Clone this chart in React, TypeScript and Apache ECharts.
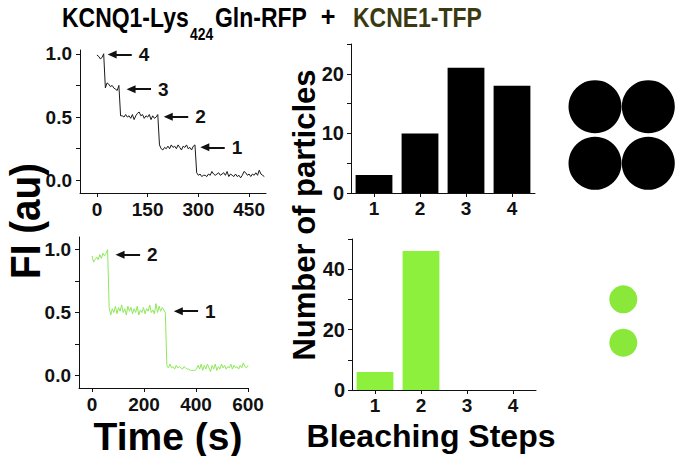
import React, { useEffect, useRef } from 'react';
import * as echarts from 'echarts';

// ---- data ----
const topTimeStep = 5; // s between samples (KCNQ1-Lys424Gln-RFP trace)
const topTrace = [
  0.99, 0.98, 0.96, 0.97, 1.0, 0.73, 0.77, 0.76, 0.74, 0.75,
  0.73, 0.72, 0.71, 0.75, 0.51, 0.51, 0.5, 0.52, 0.5, 0.51,
  0.49, 0.52, 0.48, 0.51, 0.53, 0.54, 0.51, 0.52, 0.49, 0.51,
  0.5, 0.52, 0.48, 0.51, 0.49, 0.5, 0.52, 0.28, 0.25, 0.24,
  0.26, 0.25, 0.27, 0.25, 0.28, 0.26, 0.27, 0.25, 0.28, 0.26,
  0.24, 0.27, 0.26, 0.28, 0.25, 0.26, 0.24, 0.27, 0.28, 0.06,
  0.04, 0.05, 0.03, 0.04, 0.04, 0.03, 0.05, 0.04, 0.07, 0.05,
  0.04, 0.05, 0.06, 0.04, 0.05, 0.06, 0.04, 0.07, 0.03, 0.05,
  0.04, 0.03, 0.05, 0.03, 0.04, 0.02, 0.04, 0.07, 0.06, 0.04,
  0.05, 0.03, 0.05, 0.04, 0.06, 0.04, 0.08, 0.05, 0.04, 0.03,
];
const bottomTimeStep = 6; // s between samples (KCNE1-TFP trace)
const bottomTrace = [
  0.95, 0.9, 0.92, 0.94, 0.92, 0.96, 0.93, 0.97, 0.95, 0.97,
  1.0, 0.54, 0.48, 0.53, 0.5, 0.55, 0.49, 0.54, 0.51, 0.56,
  0.5, 0.53, 0.48, 0.55, 0.51, 0.54, 0.49, 0.53, 0.5, 0.55,
  0.48, 0.52, 0.5, 0.54, 0.49, 0.53, 0.51, 0.56, 0.5, 0.52,
  0.49, 0.57, 0.5, 0.55, 0.51, 0.54, 0.52, 0.5, 0.08, 0.06,
  0.09, 0.06, 0.07, 0.05, 0.08, 0.06, 0.07, 0.06, 0.05, 0.07,
  0.06, 0.05, 0.05, 0.04, 0.04, 0.04, 0.04, 0.05, 0.08, 0.05,
  0.09, 0.04, 0.08, 0.05, 0.09, 0.06, 0.03, 0.08, 0.05, 0.09,
  0.04, 0.07, 0.05, 0.09, 0.06, 0.08, 0.05, 0.07, 0.06, 0.09,
  0.05, 0.08, 0.06, 0.07, 0.05, 0.08, 0.06, 0.1, 0.07, 0.06,
  0.08,
];
const stepCategories = ['1', '2', '3', '4'];
const kcnq1Counts = [3, 10, 21, 18];
const kcne1Counts = [6, 46, 0, 0];

const topTimeTicks = [0, 150, 300, 450];
const bottomTimeTicks = [0, 200, 400, 600];
const fiTicks = [0, 0.25, 0.5, 0.75, 1.0];
const fiLabels = [0, 0.5, 1.0];
const topCountLabels = [0, 10, 20];
const bottomCountLabels = [0, 20, 40];

// arrows: label, tip time, level, tail time
const topArrows = [
  { n: '4', t: 45, v: 0.995, tail: 103 },
  { n: '3', t: 101, v: 0.72, tail: 160 },
  { n: '2', t: 211, v: 0.503, tail: 270 },
  { n: '1', t: 319, v: 0.261, tail: 378 },
];
const bottomArrows = [
  { n: '2', t: 108, v: 0.958, tail: 185 },
  { n: '1', t: 332, v: 0.51, tail: 408 },
];

const F = '"Liberation Sans", Arial, Helvetica, sans-serif';
const BLACK = '#111111';
const GREEN_LINE = '#8ee85a';
const GREEN_BAR = '#8cf03c';
const GREEN_DOT = '#8ae83a';

const tickFont = { fontFamily: F, fontWeight: 'bold' as const, fontSize: 19, color: BLACK };
const axisLine = { show: true, onZero: false, lineStyle: { color: BLACK, width: 1 } };

function arrowMarkLine(arrows: { n: string; t: number; v: number; tail: number }[]) {
  return {
    silent: true,
    symbol: ['triangle', 'none'],
    symbolSize: [8, 9],
    lineStyle: { color: BLACK, width: 2, type: 'solid' },
    label: {
      show: true,
      position: 'end',
      distance: 7,
      formatter: (p: any) => p.name,
      ...tickFont,
      fontSize: 19,
    },
    emphasis: { disabled: true },
    data: arrows.map((a) => [
      { coord: [a.t, a.v], name: a.n },
      { coord: [a.tail, a.v] },
    ]),
  };
}

function textEl(text: string, x: number, y: number, size: number, opts: any = {}) {
  return {
    type: 'text',
    x,
    y,
    rotation: opts.rotation || 0,
    scaleX: opts.scaleX || 1,
    silent: true,
    style: {
      text,
      font: `bold ${size}px ${F}`,
      fill: opts.fill || '#000',
      textAlign: opts.align || 'center',
      align: opts.align || 'center',
      textVerticalAlign: 'middle',
      verticalAlign: 'middle',
    },
  };
}

export default function App() {
  const ref = useRef<HTMLDivElement>(null);

  useEffect(() => {
    document.body.style.margin = '0';
    if (!ref.current) return;
    const chart = echarts.init(ref.current, null, { renderer: 'svg' });

    const topData = topTrace.map((v, i) => [i * topTimeStep, v]);
    const bottomData = bottomTrace.map((v, i) => [i * bottomTimeStep, v]);

    const option: any = {
      animation: false,
      backgroundColor: '#ffffff',
      grid: [
        { left: 80, top: 50, width: 186, height: 143 },
        { left: 79, top: 237, width: 169, height: 151 },
        { left: 351, top: 44, width: 184, height: 149 },
        { left: 352, top: 239, width: 184, height: 151 },
      ],
      xAxis: [
        {
          gridIndex: 0, type: 'value', min: -50, max: 500,
          axisLine, splitLine: { show: false },
          axisTick: { show: true, customValues: topTimeTicks, length: 4, lineStyle: { color: BLACK } },
          axisLabel: { customValues: topTimeTicks, margin: 7, ...tickFont },
        },
        {
          gridIndex: 1, type: 'value', min: -50, max: 600,
          axisLine, splitLine: { show: false },
          axisTick: { show: true, customValues: bottomTimeTicks, length: 4, lineStyle: { color: BLACK } },
          axisLabel: { customValues: bottomTimeTicks, margin: 7, ...tickFont },
        },
        {
          gridIndex: 2, type: 'category', data: stepCategories,
          axisLine, splitLine: { show: false },
          axisTick: { show: true, alignWithLabel: true, length: 4, lineStyle: { color: BLACK } },
          axisLabel: { margin: 6, ...tickFont },
        },
        {
          gridIndex: 3, type: 'category', data: stepCategories,
          axisLine, splitLine: { show: false },
          axisTick: { show: true, alignWithLabel: true, length: 4, lineStyle: { color: BLACK } },
          axisLabel: { margin: 6, ...tickFont },
        },
      ],
      yAxis: [
        {
          gridIndex: 0, type: 'value', min: -0.1, max: 1.03,
          axisLine, splitLine: { show: false },
          axisTick: { show: true, customValues: fiTicks, length: 4, lineStyle: { color: BLACK } },
          axisLabel: { customValues: fiLabels, margin: 8, formatter: (v: number) => v.toFixed(1), ...tickFont },
        },
        {
          gridIndex: 1, type: 'value', min: -0.1, max: 1.1,
          axisLine, splitLine: { show: false },
          axisTick: { show: true, customValues: fiTicks, length: 4, lineStyle: { color: BLACK } },
          axisLabel: { customValues: fiLabels, margin: 8, formatter: (v: number) => v.toFixed(1), ...tickFont },
        },
        {
          gridIndex: 2, type: 'value', min: 0, max: 25, interval: 5,
          axisLine, splitLine: { show: false },
          axisTick: { show: true, length: 4, lineStyle: { color: BLACK } },
          axisLabel: { customValues: topCountLabels, margin: 7, ...tickFont, fontSize: 20 },
        },
        {
          gridIndex: 3, type: 'value', min: 0, max: 50, interval: 10,
          axisLine, splitLine: { show: false },
          axisTick: { show: true, length: 4, lineStyle: { color: BLACK } },
          axisLabel: { customValues: bottomCountLabels, margin: 7, ...tickFont, fontSize: 20 },
        },
      ],
      series: [
        {
          type: 'line', xAxisIndex: 0, yAxisIndex: 0, data: topData,
          showSymbol: false, lineStyle: { color: '#1a1a1a', width: 1 },
          markLine: arrowMarkLine(topArrows),
        },
        {
          type: 'line', xAxisIndex: 1, yAxisIndex: 1, data: bottomData,
          showSymbol: false, lineStyle: { color: GREEN_LINE, width: 1 },
          markLine: arrowMarkLine(bottomArrows),
        },
        {
          type: 'bar', xAxisIndex: 2, yAxisIndex: 2, data: kcnq1Counts,
          barWidth: '80%', itemStyle: { color: '#000000' },
        },
        {
          type: 'bar', xAxisIndex: 3, yAxisIndex: 3, data: kcne1Counts,
          barWidth: '80%', itemStyle: { color: GREEN_BAR },
        },
      ],
      graphic: {
        elements: [
          textEl('KCNQ1-Lys', 62, 17, 28, { align: 'left', scaleX: 0.82 }),
          textEl('424', 190, 34, 17, { align: 'left', scaleX: 0.82 }),
          textEl('Gln-RFP', 215, 17, 28, { align: 'left', scaleX: 0.82 }),
          textEl('+', 328, 17, 28, { scaleX: 0.9 }),
          textEl('KCNE1-TFP', 353, 17, 28, { align: 'left', scaleX: 0.82, fill: '#3a3a12' }),
          textEl('FI (au)', 25, 221, 42, { rotation: Math.PI / 2, scaleX: 0.92 }),
          textEl('Time (s)', 168, 436, 39),
          textEl('Number of particles', 304, 215, 31, { rotation: Math.PI / 2 }),
          textEl('Bleaching Steps', 431, 436, 32),
          { type: 'circle', silent: true, shape: { cx: 595, cy: 106.7, r: 26.5 }, style: { fill: '#000' } },
          { type: 'circle', silent: true, shape: { cx: 648.3, cy: 106.7, r: 26.5 }, style: { fill: '#000' } },
          { type: 'circle', silent: true, shape: { cx: 595, cy: 163.3, r: 26.5 }, style: { fill: '#000' } },
          { type: 'circle', silent: true, shape: { cx: 648.3, cy: 163.3, r: 26.5 }, style: { fill: '#000' } },
          { type: 'circle', silent: true, shape: { cx: 623.3, cy: 299.3, r: 14 }, style: { fill: GREEN_DOT } },
          { type: 'circle', silent: true, shape: { cx: 623.3, cy: 342.7, r: 14 }, style: { fill: GREEN_DOT } },
        ],
      },
    };

    chart.setOption(option);
    return () => chart.dispose();
  }, []);

  return <div ref={ref} style={{ width: 677, height: 456 }} />;
}
